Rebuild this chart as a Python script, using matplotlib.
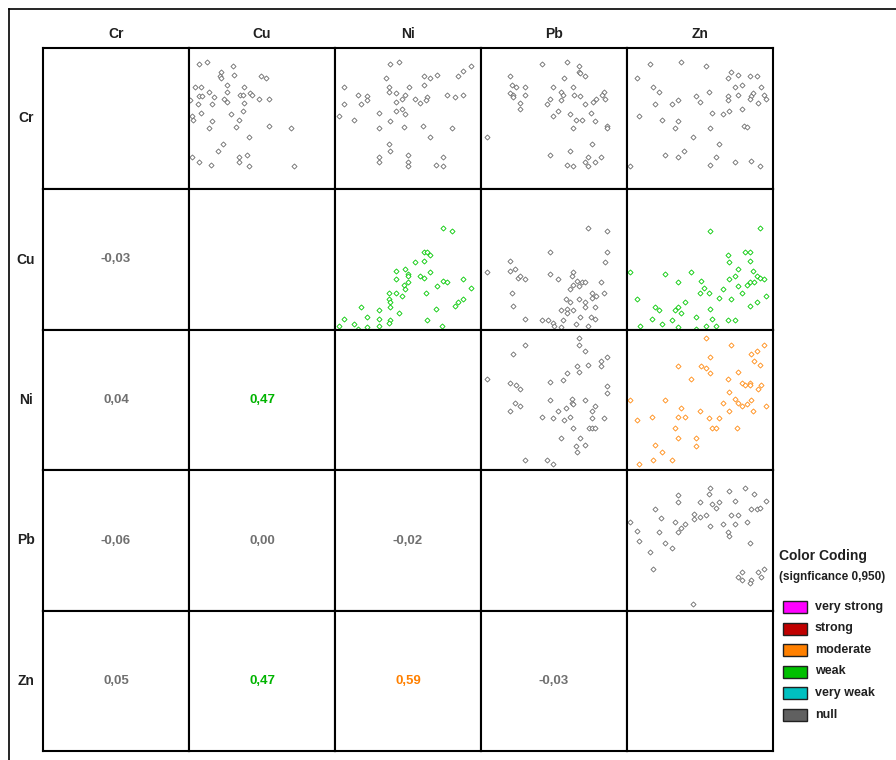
import matplotlib
matplotlib.use("Agg")
import matplotlib.pyplot as plt
from matplotlib.lines import Line2D
from matplotlib.patches import Rectangle

plt.rcParams['font.family'] = ['Liberation Sans', 'DejaVu Sans']

W, H = 896, 760

variables = ["Cr", "Cu", "Ni", "Pb", "Zn"]

# correlation coefficients (lower triangle) and their strength class
corr = {
    ("Cu", "Cr"): -0.03,
    ("Ni", "Cr"): 0.04,
    ("Ni", "Cu"): 0.47,
    ("Pb", "Cr"): -0.06,
    ("Pb", "Cu"): 0.00,
    ("Pb", "Ni"): -0.02,
    ("Zn", "Cr"): 0.05,
    ("Zn", "Cu"): 0.47,
    ("Zn", "Ni"): 0.59,
    ("Zn", "Pb"): -0.03,
}
strength = {
    ("Ni", "Cu"): "weak",
    ("Zn", "Cu"): "weak",
    ("Zn", "Ni"): "moderate",
}

legend_labels = ["very strong", "strong", "moderate", "weak", "very weak", "null"]
legend_colors = ["#ff00ff", "#c00000", "#ff8000", "#00c000", "#00c0c0", "#606060"]
marker_color = {"null": "#6a6a6a", "weak": "#00c800", "moderate": "#ff8a10"}
text_color = {"null": "#707070", "weak": "#00b400", "moderate": "#ff8000"}

# scatter points, scaled 0..100 inside each cell (x = column var, y = row var)
cr_cu = [(7, 89), (12, 90), (30, 87), (22, 83), (21, 80), (22, 79), (31, 81), (49, 80), (53, 79),
         (4, 72), (8, 72), (26, 74), (38, 72), (14, 69), (26, 69), (42, 68), (43, 67), (7, 66),
         (9, 66), (17, 65), (35, 67), (37, 67), (24, 64), (26, 62), (48, 64), (55, 64), (1, 63),
         (6, 60), (16, 60), (38, 61), (8, 54), (29, 53), (37, 55), (2, 52), (3, 49), (16, 48),
         (34, 49), (14, 43), (32, 44), (55, 45), (70, 43), (41, 37), (23, 32), (20, 27), (2, 23),
         (34, 23), (40, 24), (34, 19), (7, 19), (15, 17), (41, 16), (72, 16)]
cr_ni = [(38, 89), (44, 90), (93, 87), (88, 84), (84, 80), (70, 81), (61, 80), (65, 79), (35, 79),
         (61, 74), (51, 72), (37, 72), (6, 72), (37, 69), (42, 68), (48, 67), (16, 67), (22, 66),
         (22, 63), (46, 64), (55, 64), (63, 65), (62, 63), (77, 67), (82, 65), (88, 67), (42, 62),
         (58, 61), (6, 60), (18, 60), (46, 57), (42, 55), (48, 53), (30, 54), (3, 52), (13, 49),
         (38, 48), (30, 43), (47, 44), (60, 45), (80, 43), (65, 37), (37, 32), (38, 27), (30, 23),
         (50, 24), (74, 23), (50, 19), (30, 19), (50, 16), (69, 17), (74, 16)]
cr_pb = [(42, 89), (59, 90), (67, 87), (67, 83), (68, 82), (71, 80), (20, 80), (57, 79), (21, 74),
         (24, 72), (30, 72), (49, 72), (63, 72), (20, 68), (22, 67), (22, 65), (30, 67), (55, 69),
         (56, 67), (64, 67), (68, 66), (84, 69), (83, 67), (47, 64), (55, 63), (79, 64), (77, 62),
         (85, 64), (27, 61), (27, 57), (45, 60), (71, 60), (53, 55), (75, 54), (49, 52), (61, 53),
         (65, 49), (69, 49), (78, 48), (86, 45), (86, 43), (63, 43), (4, 37), (76, 32), (61, 27),
         (47, 24), (73, 23), (82, 23), (71, 19), (78, 19), (59, 17), (63, 16), (73, 16)]
cr_zn = [(16, 89), (37, 90), (54, 87), (71, 83), (76, 81), (69, 79), (84, 80), (89, 80), (7, 79),
         (79, 74), (74, 72), (18, 72), (22, 69), (56, 69), (92, 72), (47, 66), (76, 67), (86, 68),
         (85, 66), (84, 64), (69, 66), (69, 63), (94, 67), (95, 64), (35, 63), (50, 62), (19, 60),
         (31, 60), (90, 61), (79, 57), (70, 55), (58, 54), (66, 53), (8, 52), (24, 49), (35, 48),
         (33, 43), (57, 43), (80, 45), (82, 44), (45, 37), (63, 32), (39, 27), (26, 24), (35, 23),
         (61, 23), (74, 19), (85, 20), (57, 17), (91, 16), (2, 16)]
cu_ni = [(74, 72), (80, 70), (61, 55), (63, 55), (65, 53), (55, 48), (61, 49), (42, 42), (48, 43),
         (50, 40), (50, 38), (65, 41), (58, 38), (61, 37), (42, 36), (50, 34), (47, 32), (48, 29),
         (74, 35), (77, 34), (88, 36), (70, 31), (93, 30), (37, 26), (42, 26), (46, 24), (62, 26),
         (37, 22), (38, 20), (38, 16), (88, 22), (84, 20), (82, 17), (69, 15), (18, 16), (30, 14),
         (44, 12), (6, 8), (22, 9), (30, 8), (38, 7), (37, 5), (63, 7), (13, 4), (3, 3), (22, 2),
         (30, 3), (73, 3), (16, 1)]
cu_pb = [(73, 72), (86, 70), (47, 55), (86, 55), (85, 48), (20, 49), (4, 41), (20, 42), (23, 43),
         (47, 40), (25, 37), (27, 38), (30, 36), (53, 36), (63, 41), (62, 38), (66, 35), (69, 34),
         (71, 34), (63, 32), (67, 31), (61, 29), (82, 34), (21, 26), (76, 26), (79, 24), (84, 26),
         (58, 22), (61, 20), (67, 22), (71, 20), (76, 23), (22, 17), (55, 14), (59, 15), (63, 14),
         (59, 12), (71, 16), (78, 16), (68, 9), (75, 9), (78, 8), (30, 8), (42, 7), (46, 7),
         (49, 5), (50, 3), (56, 7), (55, 2), (65, 4), (73, 3)]
cu_zn = [(57, 70), (91, 72), (81, 55), (84, 55), (69, 53), (70, 48), (84, 49), (2, 41), (26, 40),
         (44, 41), (76, 43), (86, 42), (89, 38), (91, 37), (94, 36), (74, 38), (70, 36), (51, 35),
         (35, 34), (84, 34), (87, 34), (82, 32), (76, 31), (53, 30), (66, 29), (50, 26), (56, 26),
         (79, 26), (95, 24), (7, 22), (63, 23), (71, 22), (40, 20), (89, 20), (84, 17), (19, 16),
         (22, 14), (33, 14), (35, 16), (57, 15), (37, 12), (17, 8), (47, 9), (58, 8), (31, 7),
         (69, 7), (74, 7), (24, 4), (9, 3), (54, 3), (61, 3), (35, 2), (47, 1)]
ni_pb = [(67, 94), (67, 89), (71, 85), (30, 89), (22, 83), (86, 81), (82, 78), (82, 74), (73, 75),
         (66, 74), (67, 70), (59, 69), (4, 65), (56, 64), (47, 63), (20, 62), (24, 61), (27, 58),
         (86, 60), (86, 55), (47, 50), (62, 51), (62, 48), (63, 47), (71, 50), (23, 48), (27, 46),
         (20, 42), (53, 42), (58, 44), (78, 46), (76, 42), (42, 38), (49, 37), (57, 36), (61, 38),
         (76, 37), (84, 37), (63, 30), (74, 30), (76, 30), (78, 30), (55, 23), (68, 23), (65, 17),
         (71, 18), (66, 13), (30, 7), (45, 7), (49, 4)]
ni_zn = [(54, 94), (71, 89), (94, 89), (89, 85), (85, 83), (87, 78), (91, 75), (57, 81), (35, 74),
         (51, 74), (54, 73), (57, 69), (76, 70), (44, 65), (69, 65), (79, 62), (81, 61), (84, 62),
         (84, 61), (92, 61), (90, 58), (70, 56), (2, 50), (26, 50), (66, 48), (74, 51), (76, 48),
         (79, 46), (82, 47), (85, 50), (95, 46), (86, 42), (70, 42), (37, 44), (50, 42), (7, 36),
         (17, 38), (35, 38), (40, 38), (56, 37), (63, 37), (33, 30), (58, 30), (61, 30), (75, 30),
         (35, 23), (47, 23), (19, 18), (47, 17), (24, 13), (18, 7), (31, 7), (8, 4)]
pb_zn = [(57, 87), (56, 83), (70, 85), (81, 87), (87, 83), (95, 78), (35, 82), (35, 77), (74, 78),
         (50, 77), (58, 76), (63, 77), (61, 73), (85, 72), (89, 72), (91, 73), (19, 72), (46, 69),
         (46, 65), (50, 67), (54, 68), (71, 68), (76, 68), (23, 66), (33, 63), (40, 62), (37, 59),
         (35, 56), (66, 62), (74, 62), (82, 63), (57, 60), (2, 63), (7, 57), (22, 56), (69, 56),
         (70, 53), (8, 50), (26, 48), (31, 45), (84, 48), (16, 42), (18, 30), (79, 28), (76, 24),
         (79, 22), (85, 22), (84, 20), (90, 28), (94, 30), (92, 24), (45, 5)]

scatter = {
    ("Cr", "Cu"): cr_cu, ("Cr", "Ni"): cr_ni, ("Cr", "Pb"): cr_pb, ("Cr", "Zn"): cr_zn,
    ("Cu", "Ni"): cu_ni, ("Cu", "Pb"): cu_pb, ("Cu", "Zn"): cu_zn,
    ("Ni", "Pb"): ni_pb, ("Ni", "Zn"): ni_zn,
    ("Pb", "Zn"): pb_zn,
}

# cell grid in pixels
col_edges = [43, 189, 335, 481, 627, 773]
row_edges = [48, 189, 330, 470, 611, 751]

fig = plt.figure(figsize=(W / 100, H / 100), dpi=100)
fig.patch.set_facecolor("white")


def fx(px):
    return px / W


def fy(py):
    return 1 - py / H


# outer frame
fig.add_artist(Line2D([fx(9), fx(W)], [fy(9), fy(9)], color="black", lw=1.2))
fig.add_artist(Line2D([fx(9), fx(9)], [fy(9), fy(H)], color="black", lw=1.2))

for i, rv in enumerate(variables):
    for j, cv in enumerate(variables):
        x0, x1 = col_edges[j], col_edges[j + 1]
        y0, y1 = row_edges[i], row_edges[i + 1]
        ax = fig.add_axes([fx(x0), fy(y1), (x1 - x0) / W, (y1 - y0) / H])
        ax.set_xlim(0, 100)
        ax.set_ylim(0, 100)
        ax.set_xticks([])
        ax.set_yticks([])
        for s in ax.spines.values():
            s.set_linewidth(1.5)
            s.set_color("black")
        if j > i:
            cls = strength.get((cv, rv), "null")
            pts = scatter[(rv, cv)]
            xs = [p[0] for p in pts]
            ys = [p[1] for p in pts]
            ax.plot(xs, ys, ls="none", marker="D", ms=2.6, mfc="white",
                    mec=marker_color[cls], mew=0.6)
        elif j < i:
            val = corr[(rv, cv)]
            cls = strength.get((rv, cv), "null")
            ax.text(50, 50, f"{val:.2f}".replace(".", ","), ha="center", va="center",
                    fontsize=9.5, fontweight="bold", color=text_color[cls])

# variable names
for j, v in enumerate(variables):
    fig.text(fx((col_edges[j] + col_edges[j + 1]) / 2), fy(34), v, ha="center",
             va="center", fontsize=10, fontweight="bold", color="#202020")
for i, v in enumerate(variables):
    fig.text(fx(26), fy((row_edges[i] + row_edges[i + 1]) / 2), v, ha="center",
             va="center", fontsize=10, fontweight="bold", color="#202020")

# colour legend
fig.text(fx(779), fy(556), "Color Coding", ha="left", va="center", fontsize=10,
         fontweight="bold", color="#202020")
fig.text(fx(779), fy(577), "(signficance 0,950)", ha="left", va="center", fontsize=8.5,
         fontweight="bold", color="#202020")
for k, (lab, col) in enumerate(zip(legend_labels, legend_colors)):
    yc = 607 + k * 21.5
    fig.add_artist(Rectangle((fx(783), fy(yc + 6)), 24 / W, 12 / H, transform=fig.transFigure,
                             facecolor=col, edgecolor="#202020", lw=1.0))
    fig.text(fx(815), fy(yc), lab, ha="left", va="center", fontsize=9,
             fontweight="bold", color="#202020")

fig.savefig("out.png", dpi=100)
